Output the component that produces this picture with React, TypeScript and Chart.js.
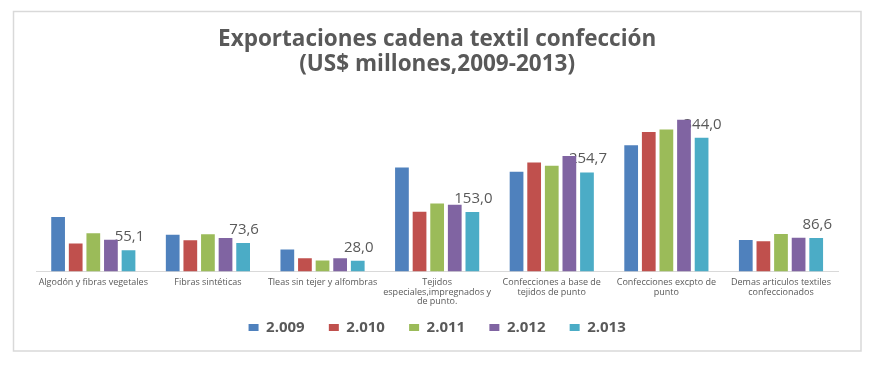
import React, { useEffect, useRef } from "react";
import { Chart, registerables } from "chart.js";

Chart.register(...registerables);

const categories: (string | string[])[] = [
  "Algodón y fibras vegetales",
  "Fibras sintéticas",
  "Tleas sin tejer y alfombras",
  ["Tejidos", "especiales,impregnados y", "de punto."],
  ["Confecciones a base de", "tejidos de punto"],
  ["Confecciones excpto de", "punto"],
  ["Demas articulos textiles", "confeccionados"],
];

const seriesNames = ["2.009", "2.010", "2.011", "2.012", "2.013"];

const values2009 = [140.6, 94.8, 57.0, 267.5, 256.4, 324.5, 81.0];
const values2010 = [72.5, 80.3, 34.4, 153.6, 280.5, 359.0, 77.7];
const values2011 = [98.4, 95.8, 28.5, 175.0, 272.0, 365.2, 96.6];
const values2012 = [81.8, 86.2, 34.4, 171.7, 296.8, 390.0, 87.0];
const values2013 = [55.1, 73.6, 28.0, 153.0, 254.7, 344.0, 86.6];

const seriesColors = ["#4F81BD", "#C0504D", "#9BBB59", "#8064A2", "#4BACC6"];

const TEXT = "#595959";

const framePlugin = {
  id: "frame",
  beforeDraw(chart: any) {
    const ctx = chart.ctx;
    ctx.save();
    ctx.fillStyle = "#ffffff";
    ctx.fillRect(0, 0, chart.width, chart.height);
    ctx.strokeStyle = "#d9d9d9";
    ctx.lineWidth = 1.5;
    ctx.strokeRect(13.5, 11.5, 847.5, 339.5);
    ctx.restore();
  },
};

const labelPlugin = {
  id: "lastLabels",
  beforeDatasetsDraw(chart: any) {
    const ctx = chart.ctx;
    const idx = chart.data.datasets.length - 1;
    const meta = chart.getDatasetMeta(idx);
    const data = chart.data.datasets[idx].data as number[];
    ctx.save();
    ctx.fillStyle = TEXT;
    ctx.font = "15px 'Open Sans'";
    ctx.textAlign = "center";
    ctx.textBaseline = "alphabetic";
    meta.data.forEach((bar: any, i: number) => {
      const txt = data[i].toFixed(1).replace(".", ",");
      ctx.fillText(txt, bar.x + 1, bar.y - 9);
    });
    ctx.restore();
  },
};

export default function App() {
  const ref = useRef<HTMLCanvasElement | null>(null);
  useEffect(() => {
    if (!ref.current) return;
    const all = [values2009, values2010, values2011, values2012, values2013];
    const chart = new Chart(ref.current, {
      type: "bar",
      data: {
        labels: categories,
        datasets: all.map((d, i) => ({
          label: seriesNames[i],
          data: d,
          backgroundColor: seriesColors[i],
          borderWidth: 0,
          barPercentage: 0.78,
          categoryPercentage: 0.768,
        })),
      },
      options: {
        responsive: false,
        animation: false,
        layout: { padding: { left: 36, right: 46.7, top: 0, bottom: 20.9 } },
        plugins: {
          title: {
            display: true,
            text: ["Exportaciones cadena textil confección", "(US$ millones,2009-2013)"],
            color: TEXT,
            font: { family: "'Open Sans'", size: 22.5, weight: "bold", lineHeight: "25px" },
            padding: { top: 27, bottom: 19.5 },
          },
          legend: {
            position: "bottom",
            labels: {
              color: TEXT,
              font: { family: "'Open Sans'", size: 15, weight: "bold" },
              boxWidth: 10,
              boxHeight: 7,
              padding: 12.5,
              generateLabels: (chart: any) => {
                const items = Chart.defaults.plugins.legend.labels.generateLabels(chart);
                return items.map((it: any, i: number) => ({
                  ...it,
                  text: i < items.length - 1 ? it.text + "   " : it.text,
                }));
              },
            },
          },
          tooltip: { enabled: false },
        },
        scales: {
          x: {
            grid: { display: false, drawTicks: false },
            border: { display: true, color: "#d9d9d9", width: 1 },
            ticks: {
              color: TEXT,
              font: { family: "'Open Sans'", size: 9, lineHeight: "9.5px" },
              maxRotation: 0,
              minRotation: 0,
              autoSkip: false,
              padding: 6.5,
            },
            afterFit: (scale: any) => {
              scale.height = 36;
            },
          },
          y: {
            display: false,
            min: 0,
            max: 450,
          },
        },
      },
      plugins: [framePlugin, labelPlugin],
    });
    return () => chart.destroy();
  }, []);
  return (
    <div style={{ position: "absolute", left: 0, top: 0, width: 885, height: 366 }}>
      <canvas ref={ref} width={885} height={366} style={{ display: "block" }} />
    </div>
  );
}
